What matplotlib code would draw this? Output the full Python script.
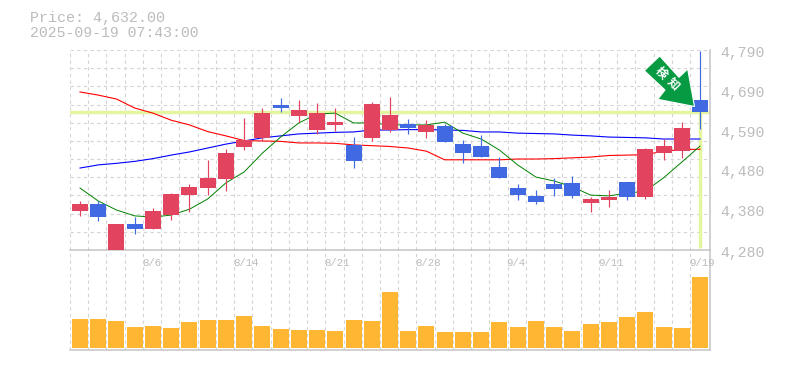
import matplotlib
matplotlib.use('Agg')
import matplotlib.pyplot as plt
from matplotlib.patches import Polygon

# precios
opens = [4379, 4397, 4275, 4346, 4334, 4369, 4420, 4438, 4461, 4543, 4566, 4650, 4622, 4586, 4599, 4548, 4566, 4586, 4601, 4581, 4596, 4550, 4545, 4492, 4438, 4418, 4448, 4451, 4400, 4407, 4453, 4415, 4527, 4532, 4662]
closes = [4397, 4364, 4346, 4334, 4379, 4423, 4441, 4464, 4527, 4560, 4629, 4642, 4637, 4629, 4606, 4507, 4652, 4624, 4591, 4599, 4555, 4527, 4517, 4464, 4420, 4402, 4436, 4418, 4410, 4415, 4415, 4538, 4545, 4591, 4632]
highs = [4405, 4405, 4346, 4364, 4387, 4425, 4448, 4510, 4537, 4616, 4642, 4668, 4663, 4655, 4642, 4568, 4657, 4670, 4614, 4612, 4601, 4560, 4573, 4517, 4448, 4433, 4464, 4469, 4415, 4433, 4453, 4540, 4563, 4606, 4788]
lows = [4367, 4354, 4275, 4321, 4334, 4356, 4377, 4420, 4430, 4535, 4558, 4632, 4606, 4576, 4583, 4489, 4558, 4581, 4576, 4566, 4555, 4502, 4517, 4464, 4407, 4397, 4418, 4413, 4377, 4390, 4407, 4410, 4510, 4515, 4589]

ma_red = [4683, 4675, 4665, 4642, 4629, 4611, 4599, 4582, 4571, 4559, 4558, 4557, 4553, 4553, 4552, 4548, 4546, 4544, 4540, 4532, 4510, 4510, 4510, 4510, 4512, 4512, 4513, 4515, 4517, 4521, 4522, 4523, 4532, 4536, 4537]
ma_blue = [4489, 4497, 4501, 4506, 4513, 4522, 4530, 4540, 4550, 4558, 4566, 4571, 4576, 4578, 4580, 4581, 4586, 4586, 4587, 4587, 4586, 4585, 4581, 4581, 4578, 4577, 4576, 4573, 4571, 4568, 4567, 4566, 4563, 4563, 4563]
ma_green = [4438, 4405, 4382, 4367, 4364, 4369, 4384, 4410, 4451, 4479, 4527, 4568, 4604, 4627, 4629, 4604, 4604, 4599, 4599, 4599, 4606, 4578, 4563, 4535, 4497, 4466, 4456, 4441, 4420, 4418, 4425, 4430, 4464, 4504, 4545]

volumes = [29, 29, 27, 21, 22, 20, 26, 28, 28, 32, 22, 19, 18, 18, 17, 28, 27, 56, 17, 22, 16, 16, 16, 26, 21, 27, 21, 17, 24, 26, 31, 36, 21, 20, 71]

date_idx = [4, 9, 14, 19, 24, 29, 34]
date_labels = ['8/6', '8/14', '8/21', '8/28', '9/4', '9/11', '9/19']
price_ticks = [4790, 4690, 4590, 4480, 4380, 4280]
last_price = 4632

UP = '#e2435f'
DOWN = '#4169e1'
GRID = '#d4d4d4'
TEXT = '#bcbcbc'
YELLOW = '#e4f5a0'
FONT = 'Liberation Mono'
W, H = 785, 370

fig = plt.figure(figsize=(W / 100, H / 100), dpi=100)
ax = fig.add_axes([70 / W, 1 - 250 / H, 640 / W, 200 / H])
ax2 = fig.add_axes([70 / W, 1 - 350 / H, 640 / W, 100 / H])
ax2.patch.set_visible(False)

# 18.235 px por vela, primera vela en x=80
x0 = -10 / 18.235
x1 = 630 / 18.235
n = len(opens)
xs = list(range(n))
grid_x = [i + x0 for i in range(n)]

for a in (ax, ax2):
    a.set_xlim(x0, x1)
    a.set_xticks(grid_x)
    a.tick_params(length=0, labelbottom=False, labelleft=False)
    a.grid(axis='x', color=GRID, ls=(0, (3, 3)), lw=0.8)
    a.set_axisbelow(True)
    for s in ('top', 'left'):
        a.spines[s].set_visible(False)
    for s in ('right', 'bottom'):
        a.spines[s].set_color('#c4c4c4')
        a.spines[s].set_linewidth(1.1)

ax.set_ylim(4280, 4790)
ax.set_yticks([4790 - (4790 - 4280) / 11 * i for i in range(11)])
ax.grid(axis='y', color=GRID, ls=(0, (3, 3)), lw=0.8)

# linea del precio actual
ax.axhline(last_price, color=YELLOW, lw=2.5, zorder=2)
ax.plot([n - 1, n - 1], [4285, last_price], color=YELLOW, lw=2.5, zorder=2, solid_capstyle='butt')

ax.plot(xs, ma_red, color='red', lw=0.8, zorder=3)
ax.plot(xs, ma_blue, color='blue', lw=0.8, zorder=3)
ax.plot(xs, ma_green, color='green', lw=0.7, zorder=3)

for i in xs:
    c = UP if closes[i] >= opens[i] else DOWN
    ax.plot([i, i], [lows[i], highs[i]], color=c, lw=0.85, zorder=4, solid_capstyle='butt')
    ax.bar(i, abs(closes[i] - opens[i]), bottom=min(opens[i], closes[i]), width=16 / 18.235, color=c, zorder=5)

ax2.set_ylim(-2, 98)
ax2.bar(xs, volumes, width=16 / 18.235, color='#ffb733', zorder=3)

# flecha verde sobre la ultima vela
arrow_px = [(694.5, 106.5), (657.7, 99.3), (665, 90), (644.3, 70.7), (659.7, 56), (679, 77.3), (687.7, 69)]
arrow = Polygon([(x / W, 1 - y / H) for x, y in arrow_px], closed=True, transform=fig.transFigure,
                facecolor='#069a42', edgecolor='white', lw=0.8, zorder=6, clip_on=False)
fig.add_artist(arrow)
fig.text(661 / W, 1 - 73 / H, '検', color='white', fontsize=8.5, fontweight='bold', rotation=-45, ha='center',
         va='center', family='Noto Sans CJK JP', zorder=7)
fig.text(673 / W, 1 - 84 / H, '知', color='white', fontsize=8.5, fontweight='bold', rotation=-45, ha='center',
         va='center', family='Noto Sans CJK JP', zorder=7)

# textos
for i, lab in zip(date_idx, date_labels):
    ax2.text(grid_x[i] - 1 / 18.235, 85.5, lab, color=TEXT, fontsize=7.7, family=FONT, ha='left', va='center', clip_on=False)
for p, y in zip(price_ticks, [53, 93, 133, 172, 212, 253]):
    fig.text(720 / W, 1 - y / H, f'{p:,}', color=TEXT, fontsize=10.6, family=FONT, ha='left', va='center')
fig.text(30 / W, 1 - 18 / H, f'Price: {last_price:,}.00', color=TEXT, fontsize=10.8, family=FONT, ha='left', va='center')
fig.text(30 / W, 1 - 33 / H, '2025-09-19 07:43:00', color=TEXT, fontsize=10.75, family=FONT, ha='left', va='center')

plt.savefig('out.png', dpi=100)
